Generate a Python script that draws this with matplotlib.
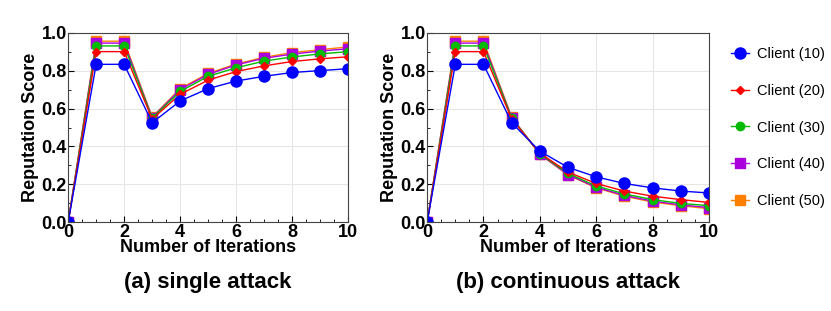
import matplotlib.pyplot as plt
from matplotlib.ticker import MultipleLocator

plt.rcParams['font.family'] = ['Liberation Sans', 'DejaVu Sans']

iters = list(range(11))
labels = ['Client (10)', 'Client (20)', 'Client (30)', 'Client (40)', 'Client (50)']
colors = ['#0000ff', '#ff0000', '#00bb00', '#aa00dd', '#ff8000']
markers = ['o', 'D', 'o', 's', 's']
msizes = [8, 4.5, 6, 6.5, 7.5]

# (a) single attack
single_10 = [0, 0.833, 0.833, 0.525, 0.640, 0.705, 0.745, 0.770, 0.790, 0.800, 0.810]
single_20 = [0, 0.900, 0.900, 0.545, 0.675, 0.750, 0.795, 0.825, 0.848, 0.862, 0.873]
single_30 = [0, 0.930, 0.930, 0.550, 0.690, 0.770, 0.815, 0.850, 0.872, 0.888, 0.900]
single_40 = [0, 0.945, 0.945, 0.552, 0.700, 0.780, 0.830, 0.865, 0.887, 0.903, 0.915]
single_50 = [0, 0.955, 0.955, 0.555, 0.705, 0.785, 0.835, 0.870, 0.895, 0.910, 0.925]

# (b) continuous attack
cont_10 = [0, 0.833, 0.833, 0.525, 0.375, 0.290, 0.240, 0.205, 0.182, 0.165, 0.155]
cont_20 = [0, 0.900, 0.900, 0.545, 0.365, 0.265, 0.205, 0.165, 0.138, 0.120, 0.105]
cont_30 = [0, 0.930, 0.930, 0.550, 0.362, 0.258, 0.192, 0.150, 0.120, 0.100, 0.088]
cont_40 = [0, 0.945, 0.945, 0.552, 0.360, 0.252, 0.185, 0.142, 0.112, 0.092, 0.078]
cont_50 = [0, 0.955, 0.955, 0.555, 0.358, 0.250, 0.182, 0.138, 0.107, 0.088, 0.072]

panels = [
    ([single_10, single_20, single_30, single_40, single_50], '(a) single attack'),
    ([cont_10, cont_20, cont_30, cont_40, cont_50], '(b) continuous attack'),
]

fig = plt.figure(figsize=(8.31, 3.11), dpi=100)
axes = [fig.add_axes([0.082, 0.285, 0.337, 0.61]),
        fig.add_axes([0.514, 0.285, 0.339, 0.61])]

for ax, (series, title) in zip(axes, panels):
    for i in reversed(range(5)):
        ax.plot(iters, series[i], color=colors[i], marker=markers[i],
                markersize=msizes[i], linewidth=1, label=labels[i])
    ax.set_xlim(0, 10)
    ax.set_ylim(0, 1.0)
    ax.xaxis.set_major_locator(MultipleLocator(2))
    ax.xaxis.set_minor_locator(MultipleLocator(0.5))
    ax.yaxis.set_major_locator(MultipleLocator(0.2))
    ax.yaxis.set_minor_locator(MultipleLocator(0.1))
    ax.tick_params(which='both', direction='in', labelsize=13)
    ax.tick_params(which='major', length=4, pad=1)
    ax.tick_params(which='minor', length=2)
    for lab in ax.get_xticklabels() + ax.get_yticklabels():
        lab.set_fontweight('bold')
    ax.grid(True, which='major', color='#e6e6e6', linewidth=0.8)
    ax.set_axisbelow(True)
    for sp in ax.spines.values():
        sp.set_color('#444444')
    ax.set_xlabel('Number of Iterations', fontsize=13, fontweight='bold', labelpad=-1)
    ax.set_ylabel('Reputation Score', fontsize=13, fontweight='bold', labelpad=2)
    ax.text(0.5, -0.26, title, transform=ax.transAxes, ha='center', va='top',
            fontsize=16, fontweight='bold')

handles, lbls = axes[1].get_legend_handles_labels()
fig.legend(handles[::-1], lbls[::-1], loc='center left', bbox_to_anchor=(0.864, 0.59),
           frameon=False, fontsize=10.5, labelspacing=1.55, handlelength=1.2,
           handletextpad=0.6)

fig.savefig('out.png', dpi=100)
